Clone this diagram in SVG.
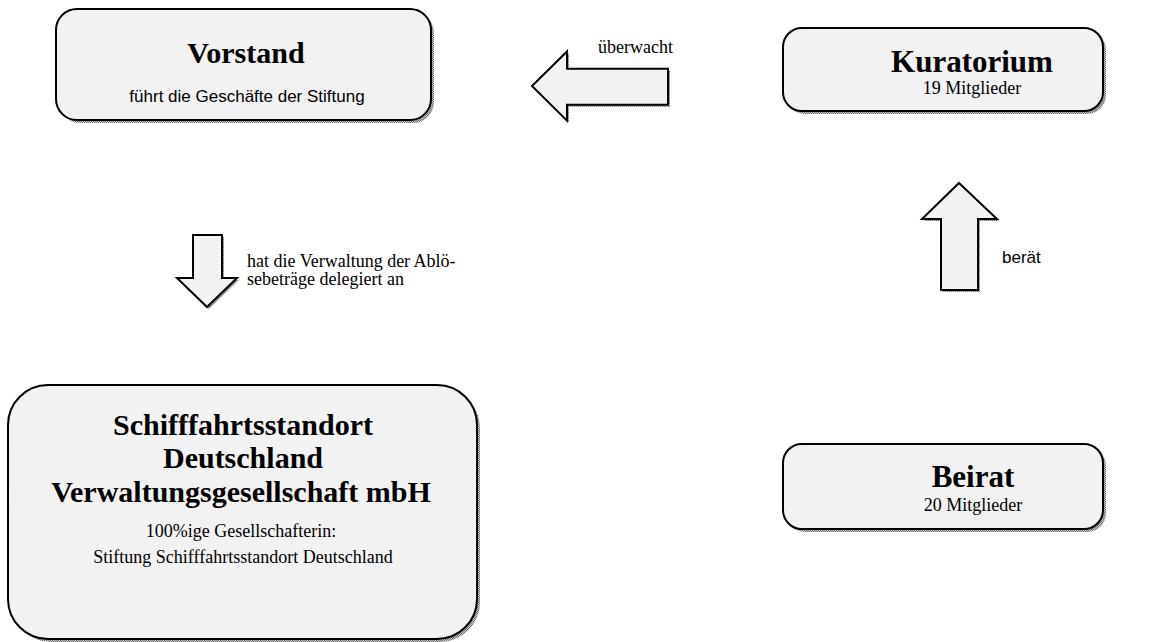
<svg xmlns="http://www.w3.org/2000/svg" width="1157" height="642" viewBox="0 0 1157 642">
<defs>
<pattern id="dither" width="2" height="2" patternUnits="userSpaceOnUse">
<rect width="2" height="2" fill="#c8c8c8"/>
<rect width="1" height="1" fill="#6e6e6e"/>
<rect x="1" y="1" width="1" height="1" fill="#6e6e6e"/>
</pattern>
</defs>
<style>
.shadow{fill:url(#dither);stroke:none}
.box{fill:#f2f2f2;stroke:#000;stroke-width:2}
.title{font-family:"Liberation Serif","Times New Roman",serif;font-weight:bold;fill:#000;text-anchor:middle}
.serif{font-family:"Liberation Serif","Times New Roman",serif;font-size:18px;fill:#000}
.sans{font-family:"Liberation Sans",Arial,sans-serif;font-size:17px;fill:#000}
.mid{text-anchor:middle}
</style>
<rect width="1157" height="642" fill="#fff"/>
<g id="vorstand">
<rect class="shadow" x="59" y="12" width="375" height="111" rx="21"/>
<rect class="box" x="56" y="9" width="375" height="111" rx="21"/>
<text class="title" x="246" y="63" font-size="30">Vorstand</text>
<text class="sans mid" x="247" y="102">führt die Geschäfte der Stiftung</text>
</g>
<g id="kuratorium">
<rect class="shadow" x="786" y="31" width="320" height="83" rx="19"/>
<rect class="box" x="783" y="28" width="320" height="83" rx="19"/>
<text class="title" x="972" y="72" font-size="31">Kuratorium</text>
<text class="serif mid" x="972" y="94">19 Mitglieder</text>
</g>
<g id="beirat">
<rect class="shadow" x="786" y="447" width="320" height="85" rx="19"/>
<rect class="box" x="783" y="444" width="320" height="85" rx="19"/>
<text class="title" x="973" y="487" font-size="31">Beirat</text>
<text class="serif mid" x="973" y="511">20 Mitglieder</text>
</g>
<g id="verwaltungsgesellschaft">
<rect class="shadow" x="11" y="388" width="469" height="254" rx="40"/>
<rect class="box" x="8" y="385" width="469" height="254" rx="40"/>
<text class="title" x="243" y="435" font-size="30">Schifffahrtsstandort</text>
<text class="title" x="243" y="468" font-size="30">Deutschland</text>
<text class="title" x="241" y="502" font-size="30">Verwaltungsgesellschaft mbH</text>
<text class="serif mid" x="241" y="537">100%ige Gesellschafterin:</text>
<text class="serif mid" x="243" y="563">Stiftung Schifffahrtsstandort Deutschland</text>
</g>
<g id="connectors">
<g id="ueberwacht">
<polygon class="shadow" transform="translate(2,2)" points="532,86 567,51.5 567,68.7 668,68.7 668,104.7 567,104.7 567,120.7"/>
<polygon class="box" points="532,86 567,51.5 567,68.7 668,68.7 668,104.7 567,104.7 567,120.7"/>
<text class="serif" x="598" y="53">überwacht</text>
</g>
<g id="delegiert">
<polygon class="shadow" transform="translate(2,2)" points="193,235 222,235 222,278 237,278 207,307 177,278 193,278"/>
<polygon class="box" points="193,235 222,235 222,278 237,278 207,307 177,278 193,278"/>
<text class="serif" x="247" y="267">hat die Verwaltung der Ablö-</text>
<text class="serif" x="247" y="285">sebeträge delegiert an</text>
</g>
<g id="beraet">
<polygon class="shadow" transform="translate(2,2)" points="959,183 997,219 978,219 978,290 941,290 941,219 922,219"/>
<polygon class="box" points="959,183 997,219 978,219 978,290 941,290 941,219 922,219"/>
<text class="sans" x="1002" y="263">berät</text>
</g>
</g>
</svg>
